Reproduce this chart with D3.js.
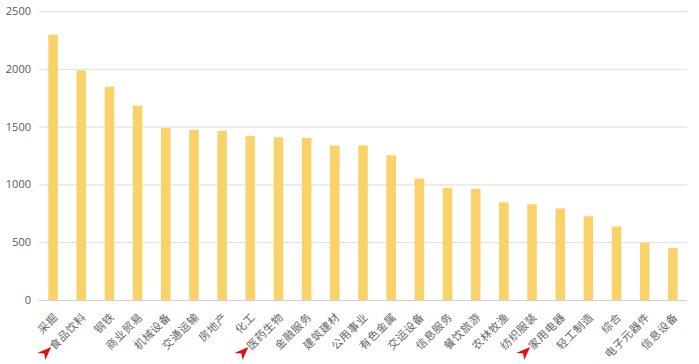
<!DOCTYPE html>
<html>
<head>
<meta charset="utf-8">
<script src="https://cdn.jsdelivr.net/npm/d3@7.9.0/dist/d3.min.js"></script>
<style>
  html, body { margin: 0; padding: 0; background: #fff; }
  svg { display: block; font-family: "Noto Sans CJK SC", "Noto Sans", sans-serif; }
</style>
</head>
<body>
<div id="chart"></div>
<script>
const categories = ["采掘", "食品饮料", "钢铁", "商业贸易", "机械设备", "交通运输", "房地产", "化工",
  "医药生物", "金融服务", "建筑建材", "公用事业", "有色金属", "交运设备", "信息服务", "餐饮旅游",
  "农林牧渔", "纺织服装", "家用电器", "轻工制造", "综合", "电子元器件", "信息设备"];
const values = [2295, 1985, 1845, 1680, 1487, 1472, 1463, 1417, 1408, 1402, 1336, 1336, 1252,
  1050, 970, 962, 845, 828, 792, 725, 636, 495, 450];
const yTicks = [0, 500, 1000, 1500, 2000, 2500];
// categories marked with a red arrow
const marked = ["食品饮料", "医药生物", "家用电器"];

const width = 699, height = 364;
const margin = { top: 11, right: 12, bottom: 64, left: 39 };

const svg = d3.select("#chart").append("svg")
  .attr("width", width).attr("height", height);

const x = d3.scaleBand()
  .domain(categories)
  .range([margin.left, width - margin.right])
  .paddingInner(0.66).paddingOuter(0.33);

const y = d3.scaleLinear()
  .domain([0, 2500])
  .range([height - margin.bottom, margin.top]);

// gridlines
const grid = svg.append("g")
  .attr("transform", `translate(${margin.left},0)`)
  .call(d3.axisLeft(y).tickValues(yTicks).tickSize(-(width - margin.left - margin.right)).tickFormat(""));
grid.select(".domain").remove();
grid.selectAll("line").attr("stroke", "#dcdcdc").attr("stroke-width", 1);

// y labels
const yAxis = svg.append("g")
  .attr("transform", `translate(${margin.left},0)`)
  .call(d3.axisLeft(y).tickValues(yTicks).tickSize(0).tickPadding(8).tickFormat(d3.format("d")));
yAxis.select(".domain").remove();
yAxis.selectAll("text").attr("fill", "#595959").attr("font-size", 11)
  .attr("font-family", "'Open Sans', 'Noto Sans', sans-serif");

// bars
svg.append("g").selectAll("rect")
  .data(values)
  .join("rect")
  .attr("x", (d, i) => x(categories[i]))
  .attr("width", x.bandwidth())
  .attr("y", d => y(d))
  .attr("height", d => y(0) - y(d))
  .attr("fill", "#F9D26A");

// baseline
svg.append("line")
  .attr("x1", margin.left).attr("x2", width - margin.right)
  .attr("y1", y(0) + 0.5).attr("y2", y(0) + 0.5)
  .attr("stroke", "#d0d0d0");

// x labels
svg.append("g").selectAll("text")
  .data(categories)
  .join("text")
  .attr("transform", d => `translate(${x(d) + x.bandwidth() / 2 + 3},${y(0) + 15}) rotate(-45)`)
  .attr("text-anchor", "end")
  .attr("dy", "0.35em")
  .attr("font-size", 11)
  .attr("letter-spacing", 0.6)
  .attr("fill", "#666")
  .text(d => d);

// red arrows
svg.append("g").selectAll("path")
  .data(marked)
  .join("path")
  .attr("transform", d => `translate(${x(d) + x.bandwidth() / 2 - 30},${y(0) + 47})`)
  .attr("d", "M0,0 L-14,6 L-7,6.5 L-6,13 Z")
  .attr("fill", "#e01010");
</script>
</body>
</html>
